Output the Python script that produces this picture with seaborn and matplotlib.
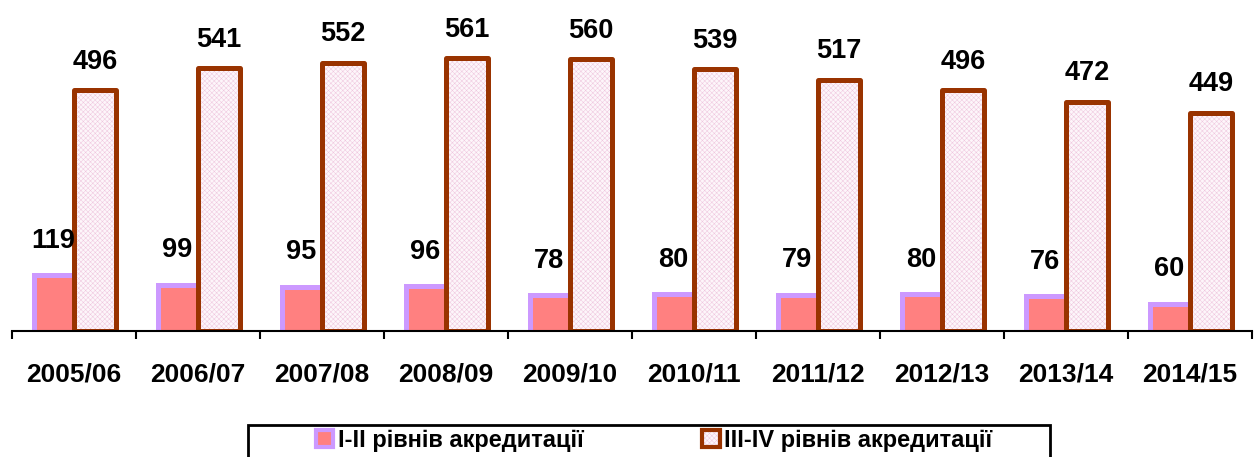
import numpy as np
import pandas as pd
import seaborn as sns
import matplotlib.pyplot as plt
import matplotlib.patheffects as pe
from matplotlib.patches import Patch, Rectangle
from matplotlib.legend_handler import HandlerTuple

years = ["2005/06", "2006/07", "2007/08", "2008/09", "2009/10",
         "2010/11", "2011/12", "2012/13", "2013/14", "2014/15"]
series = ["I-II рівнів акредитації", "III-IV рівнів акредитації"]
level_1_2 = [119, 99, 95, 96, 78, 80, 79, 80, 76, 60]
level_3_4 = [496, 541, 552, 561, 560, 539, 517, 496, 472, 449]

# кольори
lavender = "#CC99FF"
salmon = "#FF8080"
dark_red = "#993300"
dot_pink = "#EFC6DE"

df = pd.DataFrame({
    "year": years * 2,
    "series": [series[0]] * len(years) + [series[1]] * len(years),
    "value": level_1_2 + level_3_4,
})

sns.set_style("white")
plt.rcParams["font.family"] = ["Liberation Sans", "DejaVu Sans"]
plt.rcParams["text.color"] = "black"
plt.rcParams["xtick.color"] = "black"
plt.rcParams["hatch.linewidth"] = 0.35

fig = plt.figure(figsize=(12.55, 4.57), dpi=100)
ax = fig.add_axes([12 / 1255, 126 / 457, 1240 / 1255, 331 / 457])

sns.barplot(data=df, x="year", y="value", hue="series", hue_order=series,
            palette=[lavender, "white"], width=0.68, saturation=1,
            errorbar=None, legend=False, ax=ax)

low_bars, high_bars = ax.containers[0], ax.containers[1]

# ефект об'єму для першої серії
for p in low_bars:
    p.set_edgecolor("none")
    p.set_path_effects([pe.Normal(),
                        pe.SimplePatchShadow(offset=(3.6, -3.6),
                                             shadow_rgbFace=salmon, alpha=1)])

# друга серія: крапчаста заливка + товстий контур
for p in high_bars:
    p.set_facecolor("#FDF6FA")
    p.set_edgecolor(dot_pink)
    p.set_hatch("xxxxxxx")
    p.set_linewidth(0)
    ax.add_patch(Rectangle(p.get_xy(), p.get_width(), p.get_height(),
                           fill=False, ec=dark_red, lw=3.6, joinstyle="round",
                           zorder=p.get_zorder() + 0.1))

ax.bar_label(low_bars, labels=[str(v) for v in level_1_2], padding=14,
             fontsize=19.5, fontweight="bold", color="black")
ax.bar_label(high_bars, labels=[str(v) for v in level_3_4], padding=11,
             fontsize=19.5, fontweight="bold", color="black")

ax.set_xlim(-0.5, len(years) - 0.5)
ax.set_ylim(0, 681)
ax.set_xlabel("")
ax.set_ylabel("")
ax.set_yticks([])
for s in ["top", "right", "left"]:
    ax.spines[s].set_visible(False)
ax.spines["bottom"].set_linewidth(1.5)
ax.spines["bottom"].set_color("black")

ax.set_xticks(np.arange(-0.5, len(years)), minor=True)
ax.tick_params(axis="x", which="minor", direction="out", length=6, width=1.5,
               color="black", bottom=True)
ax.tick_params(axis="x", which="major", length=0, pad=23, labelcolor="black")
for lbl in ax.get_xticklabels():
    lbl.set_fontsize(19)
    lbl.set_fontweight("bold")

# легенда
handles = [
    Patch(facecolor=salmon, edgecolor=lavender, lw=3),
    (Patch(facecolor="#FDF6FA", edgecolor=dot_pink, hatch="xxxxxxx", lw=0),
     Patch(fill=False, edgecolor=dark_red, lw=3)),
]
fig.legend(handles, series, loc="center", bbox_to_anchor=(654 / 1255, 1 - 440 / 457),
           ncol=2, frameon=False, prop={"size": 17, "weight": "bold"},
           handlelength=0.75, handleheight=0.75, handletextpad=0.2,
           columnspacing=5.0, labelcolor="black",
           handler_map={tuple: HandlerTuple(ndivide=1)})
fig.add_artist(Rectangle((248 / 1255, -0.02), 802 / 1255, 0.02 + 32 / 457,
                         transform=fig.transFigure, fill=False, ec="black", lw=2))

fig.savefig("out.png", dpi=100)
